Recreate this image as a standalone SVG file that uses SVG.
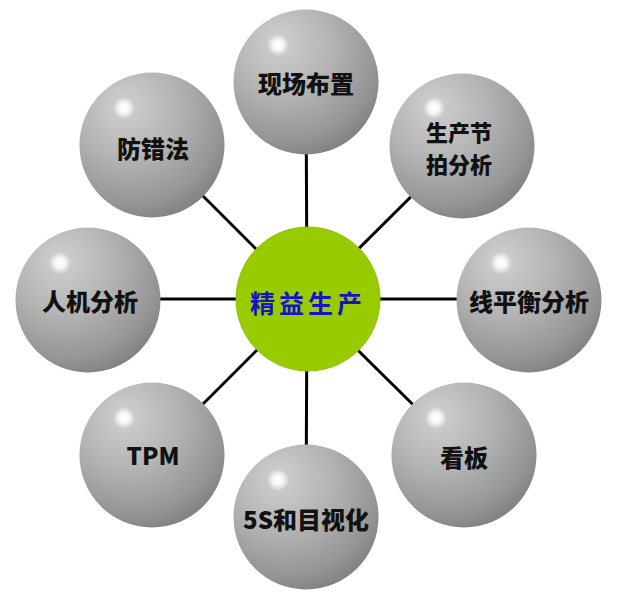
<svg xmlns="http://www.w3.org/2000/svg" width="617" height="599" viewBox="0 0 617 599">
  <defs>
    <radialGradient id="sphere" cx="0.38" cy="0.3" r="0.78" fx="0.3" fy="0.22">
      <stop offset="0" stop-color="#d0d0d0"/>
      <stop offset="0.45" stop-color="#b3b3b3"/>
      <stop offset="0.8" stop-color="#959595"/>
      <stop offset="1" stop-color="#7a7a7a"/>
    </radialGradient>
    <radialGradient id="shine" cx="0.5" cy="0.5" r="0.5">
      <stop offset="0" stop-color="#ffffff" stop-opacity="1"/>
      <stop offset="0.45" stop-color="#ffffff" stop-opacity="0.85"/>
      <stop offset="1" stop-color="#ffffff" stop-opacity="0"/>
    </radialGradient>
  </defs>
  <style>
    .ball { fill: url(#sphere); }
    .hl { fill: url(#shine); }
    .lbl { font-family: "Noto Sans CJK SC", "Liberation Sans", sans-serif; font-weight: 900; font-size: 24px; fill: #111111; text-anchor: middle; dominant-baseline: central; }
    .lbl2 { font-size: 22px; }
    .core { fill: #99cc00; stroke: #8fbf00; stroke-width: 1; }
    .coretxt { font-family: "Noto Sans CJK SC", sans-serif; font-weight: 700; font-size: 25px; fill: #1414c4; text-anchor: middle; dominant-baseline: central; letter-spacing: 4px; }
    .conn line { stroke: #000000; stroke-width: 3; }
  </style>
  <rect width="617" height="599" fill="#ffffff"/>
  <g id="connectors" class="conn">
    <line x1="307" y1="300" x2="306" y2="82"/>
    <line x1="307" y1="300" x2="152" y2="145"/>
    <line x1="307" y1="300" x2="462" y2="146"/>
    <line x1="307" y1="299" x2="88" y2="299"/>
    <line x1="307" y1="299" x2="529" y2="299"/>
    <line x1="307" y1="300" x2="152" y2="455"/>
    <line x1="307" y1="300" x2="464" y2="455"/>
    <line x1="307" y1="300" x2="306" y2="517"/>
  </g>
  <g id="center">
    <circle class="core" cx="308" cy="299" r="72"/>
    <text class="coretxt" x="308" y="302">精益生产</text>
  </g>
  <g id="n-top">
    <circle class="ball" cx="306" cy="82" r="72.5"/>
    <circle class="hl" cx="278" cy="45" r="11"/>
    <text class="lbl" x="306" y="82">现场布置</text>
  </g>
  <g id="n-topleft">
    <circle class="ball" cx="152" cy="145" r="72.5"/>
    <circle class="hl" cx="124" cy="108" r="11"/>
    <text class="lbl" x="153" y="147">防错法</text>
  </g>
  <g id="n-topright">
    <circle class="ball" cx="462" cy="146" r="72.5"/>
    <circle class="hl" cx="434" cy="108" r="11"/>
    <text class="lbl lbl2" x="459" y="131">生产节</text>
    <text class="lbl lbl2" x="459" y="163">拍分析</text>
  </g>
  <g id="n-left">
    <circle class="ball" cx="88" cy="300" r="72.5"/>
    <circle class="hl" cx="60" cy="263" r="11"/>
    <text class="lbl" x="90" y="300">人机分析</text>
  </g>
  <g id="n-right">
    <circle class="ball" cx="529" cy="300" r="72.5"/>
    <circle class="hl" cx="501" cy="263" r="11"/>
    <text class="lbl" x="529" y="300">线平衡分析</text>
  </g>
  <g id="n-bottomleft">
    <circle class="ball" cx="152" cy="455" r="72.5"/>
    <circle class="hl" cx="124" cy="418" r="11"/>
    <text class="lbl" x="153" y="454">TPM</text>
  </g>
  <g id="n-bottomright">
    <circle class="ball" cx="464" cy="455" r="72.5"/>
    <circle class="hl" cx="436" cy="418" r="11"/>
    <text class="lbl" x="464" y="456">看板</text>
  </g>
  <g id="n-bottom">
    <circle class="ball" cx="306" cy="517" r="72.5"/>
    <circle class="hl" cx="278" cy="480" r="11"/>
    <text class="lbl" x="306" y="518">5S和目视化</text>
  </g>
</svg>
